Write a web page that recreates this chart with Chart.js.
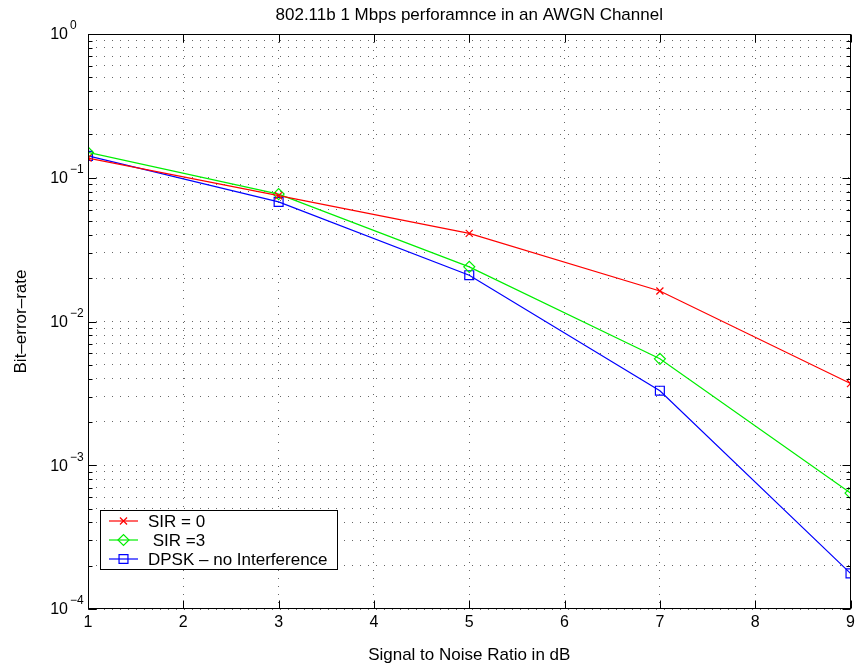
<!DOCTYPE html>
<html>
<head>
<meta charset="utf-8">
<script src="https://cdn.jsdelivr.net/npm/chart.js@4.4.0/dist/chart.umd.min.js"></script>
<style>
  html, body { margin: 0; padding: 0; background: #fff; }
  #wrap { width: 858px; height: 668px; }
</style>
</head>
<body>
<div id="wrap"><canvas id="berChart" width="858" height="668"></canvas></div>
<script>
// Data
const snr = [1, 3, 5, 7, 9];
const berSir0 = [0.137, 0.075, 0.041, 0.0163, 0.0037];
const berSir3 = [0.150, 0.077, 0.024, 0.0055, 0.00064];
const berDpsk = [0.142, 0.068, 0.021, 0.0033, 0.000177];

// Tick layout
const xTicks = [1, 2, 3, 4, 5, 6, 7, 8, 9];
const yDecades = [-4, -3, -2, -1, 0];
const yMinor = [2, 3, 4, 5, 6, 7, 8, 9];

const FONT = '"Liberation Sans", Arial, Helvetica, sans-serif';

// every grid value on the log axis: 1..9 x 10^k
const yGridValues = [];
yDecades.forEach(e => {
  yGridValues.push(Math.pow(10, e));
  if (e < 0) yMinor.forEach(m => yGridValues.push(m * Math.pow(10, e)));
});

const toPoints = (ys) => snr.map((x, i) => ({ x: x, y: ys[i] }));

const lineSet = (label, ys, color, style, radius) => ({
  label: label,
  data: toPoints(ys),
  borderColor: color,
  backgroundColor: 'transparent',
  borderWidth: 1.2,
  tension: 0,
  pointStyle: style,
  pointRadius: radius,
  pointBorderWidth: 1.2,
  pointBorderColor: color,
  pointBackgroundColor: 'transparent'
});

// MATLAB style frame, ticks, labels and legend
const matlabAxes = {
  id: 'matlabAxes',
  afterDraw(chart) {
    const ctx = chart.ctx;
    const area = chart.chartArea;
    const xs = chart.scales.x;
    const ys = chart.scales.y;
    const L = Math.round(area.left) + 0.5;
    const R = Math.round(area.right) - 0.5;
    const T = Math.round(area.top) + 0.5;
    const B = Math.round(area.bottom) - 0.5;

    ctx.save();
    ctx.strokeStyle = '#000';
    ctx.lineWidth = 1;
    ctx.strokeRect(L, T, R - L, B - T);

    // x ticks (bottom and top, pointing inward)
    ctx.beginPath();
    xTicks.forEach(v => {
      const px = Math.round(xs.getPixelForValue(v)) + 0.5;
      ctx.moveTo(px, B); ctx.lineTo(px, B - 8);
      ctx.moveTo(px, T); ctx.lineTo(px, T + 8);
    });
    // y ticks (left and right)
    yGridValues.forEach(v => {
      const py = Math.round(ys.getPixelForValue(v)) + 0.5;
      const major = Math.abs(Math.log10(v) - Math.round(Math.log10(v))) < 1e-9;
      const len = major ? 8 : 4;
      ctx.moveTo(L, py); ctx.lineTo(L + len, py);
      ctx.moveTo(R, py); ctx.lineTo(R - len, py);
    });
    ctx.stroke();

    // tick labels
    ctx.fillStyle = '#000';
    ctx.font = '16px ' + FONT;
    ctx.textAlign = 'center';
    ctx.textBaseline = 'middle';
    xTicks.forEach(v => ctx.fillText(String(v), xs.getPixelForValue(v), 623));

    yDecades.forEach(e => {
      const py = ys.getPixelForValue(Math.pow(10, e));
      ctx.font = '16px ' + FONT;
      ctx.textAlign = 'right';
      ctx.fillText('10', 68, py + 1);
      ctx.font = '12px ' + FONT;
      ctx.textAlign = 'left';
      ctx.fillText(e < 0 ? '\u2212' + Math.abs(e) : String(e), 70, py - 8);
    });

    // title and axis titles
    ctx.font = '17px ' + FONT;
    ctx.textAlign = 'center';
    const cx = (area.left + area.right) / 2;
    ctx.fillText('802.11b 1 Mbps perforamnce in an AWGN Channel', cx, 15);
    ctx.fillText('Signal to Noise Ratio in dB', cx, 655);
    ctx.save();
    ctx.translate(21, (area.top + area.bottom) / 2);
    ctx.rotate(-Math.PI / 2);
    ctx.fillText('Bit\u2013error\u2013rate', 0, 0);
    ctx.restore();

    // legend box, lower left
    const lx = 100.5, ly = 510.5, lw = 237, lh = 59;
    ctx.fillStyle = '#fff';
    ctx.fillRect(lx, ly, lw, lh);
    ctx.strokeStyle = '#000';
    ctx.strokeRect(lx, ly, lw, lh);
    chart.data.datasets.forEach((ds, i) => {
      const y = 521 + i * 19;
      ctx.strokeStyle = ds.borderColor;
      ctx.lineWidth = 1.2;
      ctx.beginPath();
      ctx.moveTo(109, y); ctx.lineTo(138, y);
      ctx.stroke();
      ctx.fillStyle = 'rgba(0,0,0,0)';
      ctx.strokeStyle = ds.borderColor;
      Chart.helpers.drawPoint(ctx, {
        pointStyle: ds.pointStyle,
        radius: ds.pointRadius,
        borderWidth: 1.2,
        rotation: 0
      }, 123.5, y);
      ctx.fillStyle = '#000';
      ctx.font = '17px ' + FONT;
      ctx.textAlign = 'left';
      ctx.textBaseline = 'middle';
      ctx.fillText(ds.label, 148, y + 1);
    });
    ctx.restore();
  }
};

new Chart(document.getElementById('berChart'), {
  type: 'line',
  data: {
    datasets: [
      lineSet('SIR = 0', berSir0, '#ff0000', 'crossRot', 5),
      lineSet(' SIR =3', berSir3, '#00ee00', 'rectRot', 5.5),
      lineSet('DPSK \u2013 no Interference', berDpsk, '#0000ff', 'rect', 6.3)
    ]
  },
  options: {
    responsive: false,
    animation: false,
    devicePixelRatio: 1,
    layout: { padding: { left: 88, top: 34, right: 4, bottom: 59 } },
    plugins: {
      legend: { display: false },
      title: { display: false },
      tooltip: { enabled: false }
    },
    scales: {
      x: {
        type: 'linear',
        min: 1,
        max: 9,
        afterBuildTicks: (s) => { s.ticks = xTicks.map(v => ({ value: v })); },
        ticks: { display: false },
        grid: { color: 'rgba(0,0,0,0.6)', lineWidth: 1, drawTicks: false },
        border: { display: false, dash: [1, 7] }
      },
      y: {
        type: 'logarithmic',
        min: 1e-4,
        max: 1,
        afterBuildTicks: (s) => { s.ticks = yGridValues.map(v => ({ value: v })); },
        ticks: { display: false },
        grid: { color: 'rgba(0,0,0,0.6)', lineWidth: 1, drawTicks: false },
        border: { display: false, dash: [1, 7] }
      }
    }
  },
  plugins: [matlabAxes]
});
</script>
</body>
</html>
